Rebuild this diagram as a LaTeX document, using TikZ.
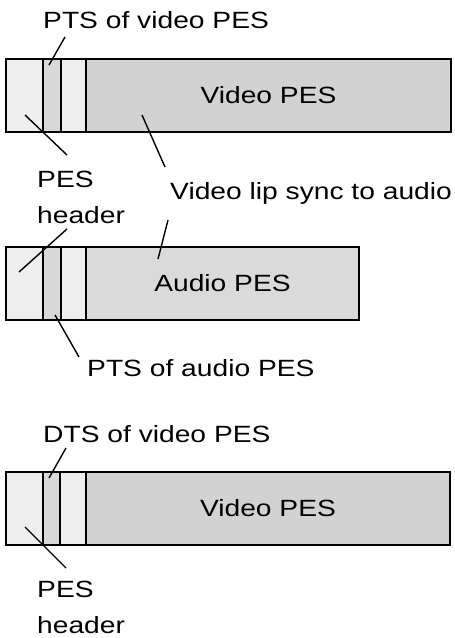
\documentclass[tikz,border=0pt]{standalone}
\usepackage{fontspec}
\setmainfont{Liberation Sans}[FakeStretch=1.2]
\usepackage{tikz}
\usetikzlibrary{positioning}
\definecolor{hdrgray}{RGB}{238,238,238}
\definecolor{ptsgray}{RGB}{216,216,216}
\definecolor{bodygray}{RGB}{210,210,210}
\definecolor{audgray}{RGB}{218,218,218}
\tikzset{
  seg/.style={rectangle, draw=black, line width=1.9pt, minimum height=73pt,
    anchor=north west, inner sep=0pt, outer sep=0pt,
    font=\fontsize{23.5}{28}\selectfont},
  hdrseg/.style={seg, fill=hdrgray},
  ptsseg/.style={seg, fill=ptsgray},
  bodyseg/.style={seg, fill=bodygray},
  lbl/.style={inner sep=0pt, anchor=base west, align=left,
    font=\fontsize{23.5}{36}\selectfont},
  lead/.style={line width=1.4pt, color=black}
}

\begin{document}
\begin{tikzpicture}[x=1pt, y=-1pt]
\useasboundingbox (0,0) rectangle (455,638);

% video PES with PTS
\node[hdrseg, minimum width=37pt] (vhdr) at (6,59) {};
\node[ptsseg, minimum width=18pt] (vpts) at (43,59) {};
\node[hdrseg, minimum width=25pt] (vext) at (61,59) {};
\node[bodyseg, minimum width=365pt] (vbody) at (86,59) {Video PES};

% audio PES with PTS
\node[hdrseg, minimum width=37pt] (ahdr) at (6,247) {};
\node[ptsseg, minimum width=18pt] (apts) at (43,247) {};
\node[hdrseg, minimum width=25pt] (aext) at (61,247) {};
\node[bodyseg, fill=audgray, minimum width=273pt] (abody) at (86,247) {Audio PES};

% video PES with DTS
\node[hdrseg, minimum width=37pt] (dhdr) at (6,472) {};
\node[ptsseg, minimum width=17pt] (dts) at (43,472) {};
\node[hdrseg, minimum width=26pt] (dext) at (60,472) {};
\node[bodyseg, minimum width=364pt] (dbody) at (86,472) {Video PES};

% labels (multi-line ones sit on their last baseline)
\node[lbl] (ptsvlbl) at (43,28) {PTS of video PES};
\node[lbl] (hdrlbl1) at (37,223) {PES\\header};
\node[lbl] (synclbl) at (170,199) {Video lip sync to audio};
\node[lbl] (ptsalbl) at (87,376) {PTS of audio PES};
\node[lbl] (dtslbl) at (43,442) {DTS of video PES};
\node[lbl] (hdrlbl3) at (37,633) {PES\\header};

% leader ends
\coordinate (ptsvtop) at (65,37);
\coordinate (ptsvin) at (49,65);
\coordinate (vhdrin) at (25,115);
\coordinate (hdrtip1) at (67,155);
\coordinate (vbodyin) at (142,115);
\coordinate (synctop) at (165,167);
\coordinate (syncbot) at (168,220);
\coordinate (abodyin) at (158,259);
\coordinate (hdrtip2) at (67,229);
\coordinate (ahdrin) at (19,272);
\coordinate (aptsin) at (55,315);
\coordinate (ptsatip) at (79,357);
\coordinate (dtstop) at (66,448);
\coordinate (dtsin) at (49,478);
\coordinate (dhdrin) at (25,527);
\coordinate (hdrtip3) at (66,568);

\draw[lead] (ptsvtop) -- (ptsvin);
\draw[lead] (vhdrin) -- (hdrtip1);
\draw[lead] (vbodyin) -- (synctop);
\draw[lead] (syncbot) -- (abodyin);
\draw[lead] (hdrtip2) -- (ahdrin);
\draw[lead] (aptsin) -- (ptsatip);
\draw[lead] (dtstop) -- (dtsin);
\draw[lead] (dhdrin) -- (hdrtip3);
\end{tikzpicture}
\end{document}
